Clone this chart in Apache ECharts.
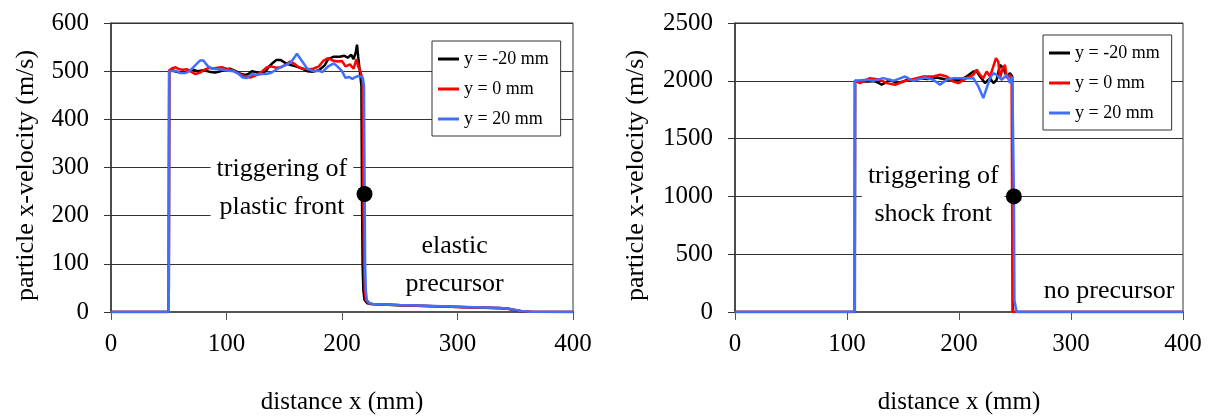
<!DOCTYPE html>
<html>
<head>
<meta charset="utf-8">
<script src="https://cdn.jsdelivr.net/npm/echarts@6/dist/echarts.min.js"></script>
<style>
  html, body { margin: 0; padding: 0; background: #fff; }
  #chart { width: 1213px; height: 420px; }
</style>
</head>
<body>
<div id="chart"></div>
<script>
// legend names
let seriesNames = ['y = -20 mm', 'y = 0 mm', 'y = 20 mm']
let lineColors = ['#000000', '#ff0000', '#3f6fff']

// left chart: plastic front, values [x mm, velocity m/s]
let plasticLow = [[0,0],[50,0],[50.4,500],[53,502],[56,499],[60,497],[64,497],[68,501],[71,503],[75,500],[80,502],[85,499],[90,497],[95,500],[100,504],[103,505],[108,500],[112,495],[116,492],[119,494],[122,500],[126,498],[130,495],[134,500],[137,510],[140,517],[143,523],[147,523],[151,517],[155,513],[160,510],[165,506],[170,500],[175,499],[180,502],[185,512],[188,525],[193,530],[198,530],[202,532],[205,528],[208,534],[210,525],[212,540],[213,555],[214,530],[215.5,498],[216.8,470],[217.3,250],[217.8,100],[218.5,45],[219.5,25],[222,18],[225,16.5],[250,14],[280,12],[308,10],[337,8],[345,6],[354,2],[362,0.5],[400,0]]
let plasticMid = [[0,0],[50,0],[50.4,502],[53,506],[56,508],[59,504],[62,503],[66,504],[70,498],[73,494],[77,497],[81,503],[85,507],[88,505],[92,507],[96,508],[100,505],[105,502],[110,496],[115,490],[118,488],[121,487],[125,491],[130,498],[135,508],[139,510],[143,507],[147,508],[151,513],[155,520],[159,515],[163,507],[167,505],[171,504],[175,505],[180,510],[184,522],[188,527],[192,522],[196,520],[200,521],[203,510],[207,514],[210,505],[212.5,525],[214,510],[216,500],[217.8,480],[218.5,250],[219,100],[219.7,45],[220.7,25],[223,18],[226,16.5],[250,14],[280,12],[308,10],[337,8.5],[346,6],[355,2],[363,0.5],[400,0]]
let plasticHigh = [[0,0],[50,0],[50.3,500],[52,504],[56,501],[60,496],[64,496],[68,500],[72,510],[77,522],[80,522],[84,510],[88,505],[92,504],[97,503],[102,501],[106,500],[110,495],[114,487],[118,486],[122,494],[126,492],[130,494],[134,494],[138,496],[143,503],[148,510],[152,513],[156,519],[161,536],[165,522],[170,505],[175,500],[180,501],[183,498],[188,510],[193,516],[196,510],[200,500],[203,486],[206,488],[209,484],[211,487],[214,490],[218,487],[219,470],[219.6,250],[220,100],[220.6,45],[221.5,25],[224,18],[227,16.5],[250,14.5],[280,12.5],[308,10.5],[337,8.5],[346,6],[355,2],[364,0.5],[400,0]]

// right chart: shock front
let shockLow = [[0,0],[107,0],[107.2,2000],[111.6,1995],[117.6,1994],[123.5,1997],[126.5,1990],[131,1966],[135.4,1990],[138.4,2009],[144.3,1980],[150.3,1994],[153.3,2009],[159.2,2005],[165.2,2023],[172,2015],[180.1,2029],[189,2009],[194.9,2012],[200.9,2009],[206.8,2037],[212.8,2080],[215.8,2080],[218.8,2037],[223.2,1980],[224.7,1966],[227.7,2023],[230.7,1980],[233.6,2009],[236.6,2137],[239.6,2109],[242.6,2037],[245.5,2066],[247.5,2040],[247.8,1000],[248.2,0],[400,0]]
let shockMid = [[0,0],[106.9,0],[107.1,2000],[111.6,1980],[120.5,2023],[129.5,2009],[135.4,1980],[142.9,1966],[150.3,1994],[162.2,2023],[168.2,2037],[177.1,2037],[183,2052],[189,2037],[194.9,1994],[199.4,1980],[206.8,2023],[212.8,2052],[215.8,2095],[218.8,2052],[221.7,2023],[224.7,2080],[227.7,2037],[233,2195],[235.1,2166],[236.6,2023],[239,2109],[241.1,2137],[242.6,2023],[245.5,2052],[247,1994],[247.4,1000],[247.8,0],[400,0]]
let shockHigh = [[0,0],[106.9,0],[107.1,2000],[108.6,2000],[117.6,2009],[123.5,2000],[132.4,2023],[141.4,2000],[151.8,2037],[159.2,2000],[169.6,2029],[177.1,2009],[183,1966],[189,2009],[194.9,2023],[206.8,2023],[212.8,2023],[217.3,1951],[221.7,1851],[224.7,1937],[227.7,2023],[230.7,2066],[233.6,2052],[238.1,2009],[242.6,2052],[245.5,1980],[247.6,2037],[248.8,2020],[249,1000],[249.5,100],[251.5,0],[400,0]]

// trigger points and notes
let plasticTrigger = [[219.5, 245]]
let shockTrigger = [[249, 1000]]
let plasticNotes = [
  {value: [148, 258], text: 'triggering of\nplastic front', box: true},
  {value: [297.5, 97], text: 'elastic\nprecursor', box: false}
]
let shockNotes = [
  {value: [177, 1010], text: 'triggering of\nshock front', box: true},
  {value: [334, 180], text: 'no precursor', box: false}
]

const serif = '"Liberation Serif", "DejaVu Serif", serif'

function makeXAxis(idx){
  return {
    gridIndex: idx,
    type: 'value',
    min: 0, max: 400, interval: 100,
    name: 'distance x (mm)',
    nameLocation: 'middle',
    nameGap: 78,
    nameTextStyle: {fontFamily: serif, fontSize: 25, color: '#000'},
    axisLine: {show: true, onZero: false, lineStyle: {color: '#555', width: 2}},
    axisTick: {show: true, length: 8, lineStyle: {color: '#555'}},
    axisLabel: {fontFamily: serif, fontSize: 25, color: '#000', margin: 20},
    splitLine: {show: false}
  }
}

function makeYAxis(idx, max, interval, gap){
  return {
    gridIndex: idx,
    type: 'value',
    min: 0, max: max, interval: interval,
    name: 'particle x-velocity (m/s)',
    nameLocation: 'middle',
    nameGap: gap,
    nameTextStyle: {fontFamily: serif, fontSize: 26, color: '#000', padding: [0, 16, 0, 0]},
    axisLine: {show: true, lineStyle: {color: '#333', width: 1.5}},
    axisTick: {show: true, length: 7, lineStyle: {color: '#333'}},
    axisLabel: {fontFamily: serif, fontSize: 25, color: '#000', margin: 22, formatter: v => String(v)},
    splitLine: {show: true, lineStyle: {color: '#333', width: 1}}
  }
}

function makeLegend(left, top){
  return {
    left: left, top: top,
    orient: 'vertical',
    data: seriesNames,
    selectedMode: false,
    icon: 'rect',
    itemWidth: 21, itemHeight: 3,
    itemGap: 12,
    padding: [9, 12, 8, 6],
    backgroundColor: '#fff',
    borderColor: '#333',
    borderWidth: 1,
    borderRadius: 0,
    textStyle: {fontFamily: serif, fontSize: 18, color: '#000', lineHeight: 18}
  }
}

function lineSeries(name, data, color, g){
  return {
    name: name,
    type: 'line',
    xAxisIndex: g, yAxisIndex: g,
    data: data,
    showSymbol: false,
    symbol: 'none',
    animation: false,
    lineStyle: {color: color, width: 2.5},
    itemStyle: {color: color},
    z: 3
  }
}

function noteSeries(notes, g){
  return {
    type: 'scatter',
    xAxisIndex: g, yAxisIndex: g,
    symbolSize: 1,
    itemStyle: {color: 'rgba(0,0,0,0)', opacity: 1},
    silent: true,
    z: 4,
    data: notes.map(n => ({
      value: n.value,
      label: {
        show: true,
        position: 'inside',
        formatter: n.text,
        fontFamily: serif,
        fontSize: 26,
        color: '#000',
        opacity: 1,
        lineHeight: 38,
        align: 'center',
        verticalAlign: 'middle',
        backgroundColor: n.box ? '#fff' : 'transparent',
        padding: n.box ? [0, 6] : 0
      }
    }))
  }
}

function dotSeries(data, g){
  return {
    type: 'scatter',
    xAxisIndex: g, yAxisIndex: g,
    symbolSize: 16,
    itemStyle: {color: '#000', opacity: 1},
    data: data,
    z: 5
  }
}

let dom = document.getElementById('chart')
let myChart = echarts.init(dom, null, {renderer: 'canvas'})
let option = {
  animation: false,
  backgroundColor: '#fff',
  grid: [
    {left: 111, top: 23, right: 640, bottom: 106, show: true, borderColor: '#333', borderWidth: 1},
    {left: 735, top: 23, right: 30, bottom: 106, show: true, borderColor: '#333', borderWidth: 1}
  ],
  legend: [makeLegend(432, 41), makeLegend(1043, 35)],
  xAxis: [makeXAxis(0), makeXAxis(1)],
  yAxis: [makeYAxis(0, 600, 100, 72), makeYAxis(1, 2500, 500, 86)],
  series: [
    noteSeries(plasticNotes, 0),
    lineSeries(seriesNames[0], plasticLow, lineColors[0], 0),
    lineSeries(seriesNames[1], plasticMid, lineColors[1], 0),
    lineSeries(seriesNames[2], plasticHigh, lineColors[2], 0),
    dotSeries(plasticTrigger, 0),
    noteSeries(shockNotes, 1),
    lineSeries(seriesNames[0], shockLow, lineColors[0], 1),
    lineSeries(seriesNames[1], shockMid, lineColors[1], 1),
    lineSeries(seriesNames[2], shockHigh, lineColors[2], 1),
    dotSeries(shockTrigger, 1)
  ]
}
myChart.setOption(option)
window.addEventListener('resize', myChart.resize)
</script>
</body>
</html>
